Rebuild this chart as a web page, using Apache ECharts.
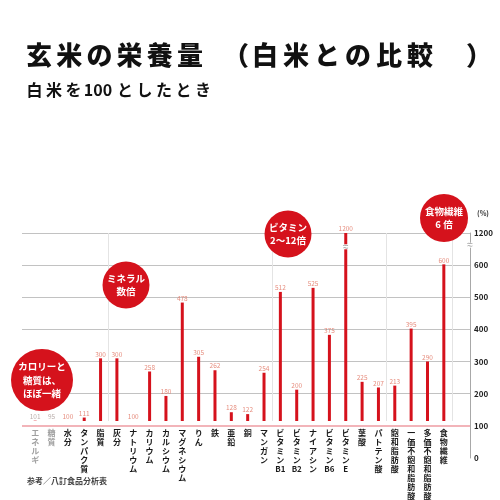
<!DOCTYPE html>
<html>
<head>
<meta charset="utf-8">
<script src="https://cdn.jsdelivr.net/npm/echarts@6/dist/echarts.min.js"></script>
<style>
  html, body { margin: 0; padding: 0; background: #fff; }
  #chart { width: 500px; height: 500px; }
</style>
</head>
<body>
<div id="chart"></div>
<script>
// 白米を100としたときの玄米の栄養量
const categories = ['エネルギ', '糖質', '水分', 'タンパク質', '脂質', '灰分', 'ナトリウム', 'カリウム', 'カルシウム',
  'マグネシウム', 'りん', '鉄', '亜鉛', '銅', 'マンガン', 'ビタミンB1', 'ビタミンB2', 'ナイアシン', 'ビタミンB6',
  'ビタミンE', '葉酸', 'パトテン酸', '飽和脂肪酸', '一価不飽和脂肪酸', '多価不飽和脂肪酸', '食物繊維'];
const values = [101, 95, 100, 111, 300, 300, 100, 258, 180, 478, 305, 262, 128, 122, 254,
  512, 200, 525, 375, 1200, 225, 207, 213, 395, 290, 600];
const mutedCategories = ['エネルギ', '糖質'];
const groupStarts = ['灰分', 'ビタミンB1', '飽和脂肪酸'];   // 縦の区切り線
const yTicks = [0, 100, 200, 300, 400, 500, 600, 1200];

const BASE = 100;          // 白米 = 100
const BREAK_FROM = 600;    // ここから上は省略
const BREAK_DRAW = 700;    // 1200 を描く位置
const RED = '#d5121c';
const FONT = '"Noto Sans CJK JP", sans-serif';

const plotVal = v => v > BREAK_FROM ? BREAK_DRAW : v;
const tickLabel = v => v === BREAK_DRAW ? String(yTicks[yTicks.length - 1]) : String(v);
const vertical = s => s.match(/[A-Za-z0-9]+|./g).join('\n');

const chart = echarts.init(document.getElementById('chart'));

// タイトル（1文字ずつ）
function charRow(text, x0, pitch, y, size, weight) {
  return text.split('').map((c, i) => ({
    type: 'text', x: x0 + i * pitch, y: y,
    style: { text: c, font: weight + ' ' + size + 'px ' + FONT, fill: '#111', align: 'center', verticalAlign: 'middle' }
  }));
}
function bubble(cx, cy, r, text, size, lh) {
  return [
    { type: 'circle', shape: { cx: cx, cy: cy, r: r }, style: { fill: RED }, z: 50 },
    { type: 'text', x: cx, y: cy, z: 51,
      style: { text: text, font: 'bold ' + size + 'px ' + FONT, fill: '#fff', align: 'center',
               verticalAlign: 'middle', lineHeight: lh } }
  ];
}

const graphics = [].concat(
  charRow('玄米の栄養量', 39, 30.2, 55, 26, 900),
  [{ type: 'text', x: 249, y: 55, style: { text: '（', font: '900 26px ' + FONT, fill: '#111', align: 'right', verticalAlign: 'middle' } }],
  charRow('白米との比較', 265, 31, 55, 26, 900),
  [{ type: 'text', x: 466, y: 55, style: { text: '）', font: '900 26px ' + FONT, fill: '#111', align: 'left', verticalAlign: 'middle' } }],
  charRow('白米を', 34.5, 19.5, 90, 16, 'bold'),
  [{ type: 'text', x: 98, y: 90, style: { text: '100', font: 'bold 16px ' + FONT, fill: '#111', align: 'center', verticalAlign: 'middle' } }],
  charRow('としたとき', 125, 19.5, 90, 16, 'bold'),
  [
    { type: 'text', x: 483, y: 213, style: { text: '(%)', font: 'bold 7px ' + FONT, fill: '#333', align: 'center', verticalAlign: 'middle' } },
    { type: 'text', x: 27, y: 481, style: { text: '参考／八訂食品分析表', font: 'bold 8px ' + FONT, fill: '#444', verticalAlign: 'middle' } }
  ],
  bubble(42, 380, 31, 'カロリーと\n糖質は、\nほぼ一緒', 9.5, 13.5),
  bubble(126, 285, 23.5, 'ミネラル\n数倍', 9.5, 13),
  bubble(288, 234, 23.5, 'ビタミン\n2～12倍', 9.5, 13),
  bubble(444, 218, 24, '食物繊維\n6 倍', 9.5, 13)
);

chart.setOption({
  animation: false,
  grid: [
    { left: 27, right: 48, top: 233, bottom: 75 },   // 棒
    { left: 22, right: 30, top: 233, bottom: 42 }    // 目盛り
  ],
  xAxis: [
    {
      type: 'category', gridIndex: 0,
      data: categories.map(c => ({
        value: c,
        textStyle: { color: mutedCategories.includes(c) ? '#a0a0a0' : '#1a1a1a' }
      })),
      axisLine: { show: false }, axisTick: { show: false },
      axisLabel: {
        interval: 0, margin: 7, fontSize: 8, fontWeight: 'bold', fontFamily: FONT,
        lineHeight: 9, verticalAlign: 'top', formatter: v => vertical(v)
      },
      splitLine: {
        show: true,
        interval: i => groupStarts.includes(categories[i]),
        lineStyle: { color: '#e4e4e4', width: 1 }
      }
    },
    { type: 'value', gridIndex: 1, min: 0, max: 1, show: false }
  ],
  yAxis: [
    { type: 'value', gridIndex: 0, min: BASE, max: BREAK_DRAW, show: false },
    {
      type: 'value', gridIndex: 1, position: 'right', min: 0, max: BREAK_DRAW, interval: 100,
      axisLine: { show: true, onZero: false, lineStyle: { color: '#a8a8a8', width: 1 } },
      axisTick: { show: false },
      axisLabel: { margin: 4, fontSize: 8, fontWeight: 'bold', fontFamily: FONT, color: '#222', formatter: tickLabel },
      splitLine: { show: true, showMinLine: false, lineStyle: { color: '#c2c2c2', width: 1 } }
    }
  ],
  series: [
    {
      type: 'line', xAxisIndex: 1, yAxisIndex: 1, data: [], silent: true,
      markLine: {
        symbol: ['none', 'none'], silent: true, label: { show: false },
        lineStyle: { color: '#f2b4b9', width: 2, type: 'solid' },
        data: [{ yAxis: BASE }]
      },
      markPoint: {
        symbol: 'rect', symbolSize: [9, 5], itemStyle: { color: '#fff' }, silent: true,
        label: { show: true, formatter: '≈', color: '#999', fontSize: 10, position: 'inside' },
        data: [{ coord: [1, 662] }]
      }
    },
    {
      type: 'bar', xAxisIndex: 0, yAxisIndex: 0, barWidth: 3,
      itemStyle: { color: RED },
      data: values.map(plotVal),
      markPoint: {
        symbol: 'rect', symbolSize: [9, 5], itemStyle: { color: '#fff' }, silent: true,
        label: { show: true, formatter: '≈', color: '#999', fontSize: 10, position: 'inside' },
        data: values.map((v, i) => plotVal(v) !== v ? { coord: [i, 656] } : null).filter(d => d)
      }
    },
    {
      // 値ラベル
      type: 'scatter', xAxisIndex: 0, yAxisIndex: 0, symbolSize: 0, silent: true, clip: false,
      data: values.map((v, i) => ({
        value: [i, plotVal(Math.max(v, BASE)), v],
        label: { color: mutedCategories.includes(categories[i]) ? '#a89a96' : '#e0705e' }
      })),
      label: {
        show: true, position: 'top', distance: 1, fontSize: 6.5, fontFamily: FONT,
        formatter: p => p.value[2]
      }
    }
  ],
  graphic: graphics
});
</script>
</body>
</html>
